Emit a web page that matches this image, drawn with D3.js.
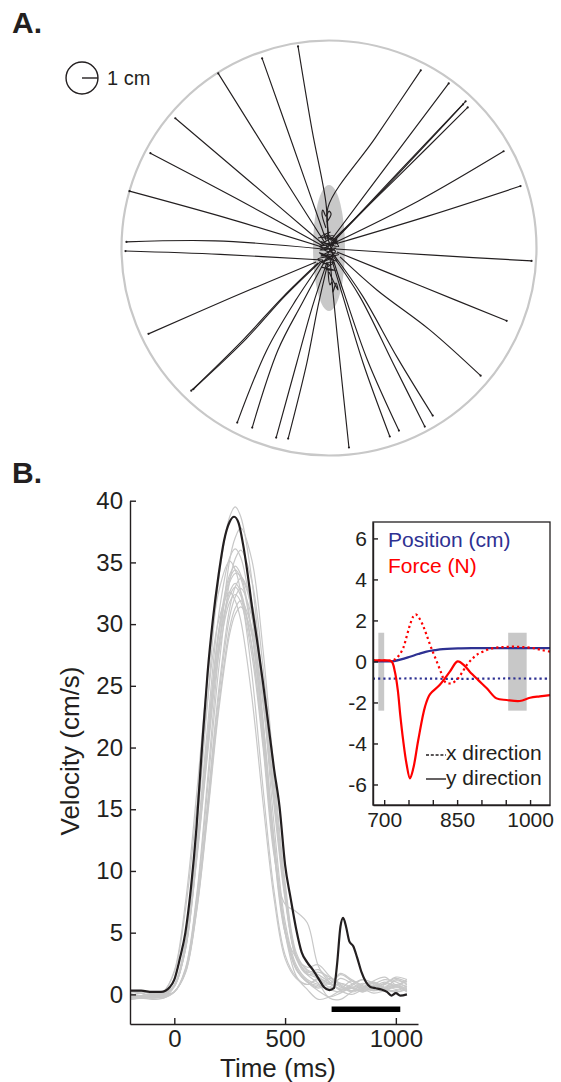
<!DOCTYPE html>
<html><head><meta charset="utf-8">
<script src="https://cdn.jsdelivr.net/npm/d3@7"></script>
<style>
body{margin:0;background:#fff}
svg{display:block}
text{font-family:"Liberation Sans",Arial,Helvetica,sans-serif;fill:#231f20}
</style>
</head><body>
<svg id="c" width="561" height="1082"></svg>
<script>
// ---------------- DATA ----------------
// Panel A: hand trajectories (cm, origin = start position, y up)
const workspaceRadius = 13;          // cm
const startZoneRadii = [1.0, 3.95];  // cm (x, y) of gray ellipse
const trajectories = [
 [[-0.06,0.63],[-0.19,2.81],[-1.06,7.38],[-1.94,12.63]],
 [[-0.19,0.5],[-2.31,6.56],[-4.19,11.88]],
 [[-0.25,0.31],[-3.6,5.6],[-6.94,10.94]],
 [[-0.31,0.19],[-5.0,4.2],[-9.63,8.13]],
 [[-0.38,0.13],[-5.8,3.1],[-11.19,5.94]],
 [[-0.44,0.06],[-6.5,1.9],[-12.5,3.56]],
 [[-0.38,-0.06],[-7.13,0.45],[-12.69,0.38]],
 [[-0.38,-0.75],[-6.81,-0.4],[-12.75,-0.19]],
 [[-0.81,-0.88],[-6.1,-3.1],[-11.31,-5.38]],
 [[-0.69,-0.94],[-2.88,-3.06],[-5.38,-5.75],[-8.63,-8.94]],
 [[-0.56,-0.88],[-2.75,-3.0],[-5.19,-5.69],[-8.5,-8.85]],
 [[-0.38,-0.75],[-2.1,-3.3],[-3.9,-6.4],[-5.75,-10.94]],
 [[-0.25,-0.8],[-1.65,-3.4],[-3.19,-6.38],[-4.81,-11.25]],
 [[-0.13,-0.9],[-1.05,-3.7],[-2.02,-7.19],[-3.31,-11.88]],
 [[-0.06,-0.9],[-0.7,-3.7],[-1.39,-7.21],[-2.56,-11.94]],
 [[0.06,-0.5],[0.19,-2.19],[0.69,-7.19],[1.25,-12.5]],
 [[0.13,-0.6],[0.88,-3.06],[2.13,-7.19],[3.81,-11.81]],
 [[0.19,-0.5],[1.0,-3.0],[2.4,-7.0],[4.38,-11.44]],
 [[0.25,-0.5],[1.94,-3.06],[4.0,-7.19],[6.0,-11.19]],
 [[0.31,-0.44],[2.1,-3.0],[4.3,-6.9],[6.5,-10.5]],
 [[0.69,-0.56],[3.0,-2.63],[6.31,-5.13],[9.5,-8.0]],
 [[0.5,-0.25],[5.8,-2.4],[11.13,-4.56]],
 [[0.44,-0.06],[6.5,-0.45],[12.69,-0.81]],
 [[0.38,0.25],[6.2,2.0],[12.0,3.88]],
 [[0.31,0.31],[5.6,2.95],[10.94,6.06]],
 [[0.25,0.38],[4.4,4.8],[8.56,9.19]],
 [[0.19,0.44],[4.45,4.6],[8.69,8.81]],
 [[0.13,0.25],[4.3,4.6],[8.4,9.0]],
 [[0.13,0.5],[3.8,5.4],[7.5,10.31]],
 [[0.0,0.75],[-0.06,2.56],[2.9,6.9],[5.75,11.13]]
];
const corrections = [
 [[-0.19,1.25],[-0.44,2.13],[-0.38,2.38],[-0.19,2.0],[0,2.31],[0.13,2.13],[-0.13,1.63]],
 [[-0.06,-1.38],[0.06,-2.31],[0.19,-2.13],[0.25,-2.75],[0.44,-2.19],[0.56,-2.63],[0,-1.5]],
 [[-0.69,0.63],[0.31,0.75],[-0.44,0.25],[0.56,0.38],[-0.56,-0.13],[0.44,0.0],[-0.5,-0.5],[0.31,-0.38],[-0.44,-0.88],[0.19,-0.63]],
 [[-0.3,0.9],[0.2,0.3],[-0.6,0.1],[0.4,-0.2],[-0.2,-0.7],[0.5,0.6]],
 [[-0.5,0.4],[0.6,0.1],[-0.1,0.8],[0.2,-0.5],[-0.6,-0.3],[0.5,-0.8],[-0.2,0.2]],
 [[0.1,1.0],[-0.5,0.7],[0.5,0.5],[-0.3,-0.1],[0.6,-0.4],[-0.7,-0.7],[0.1,-1.1]],
 [[-0.4,-1.0],[0.3,-0.9],[-0.2,-1.3],[0.4,-1.4],[-0.5,-1.2]]
];
const scaleBarLabel = "1 cm";

// Panel B: velocity (cm/s) vs time (ms)
const velTicks = [0,5,10,15,20,25,30,35,40];
const timeTicks = [0,500,1000];
const T = [-200,-150,-100,-50,0,50,100,150,200,250,275,300,350,400,450,500,550,600,650,700,750,800,850,900,950,1000,1050];
const grayTrials = [
 [-0.2,-0.1,0.1,0.0,0.8,4.3,13.0,23.7,33.6,38.7,39.5,38.7,33.6,24.5,13.8,5.9,2.4,1.2,0.8,0.5,0.9,0.6,0.3,0.7,0.5,0.8,0.4],
 [-0.3,-0.2,-0.2,0.0,0.2,2.1,7.9,17.4,27.6,35.2,37.0,37.8,35.2,28.0,18.1,9.1,3.4,1.9,1.4,0.9,0.5,1.1,0.7,0.4,0.9,0.6,0.8],
 [0.1,-0.2,-0.3,-0.1,0.7,4.0,11.9,21.7,30.7,35.4,36.1,35.4,30.7,22.4,12.6,5.4,2.2,1.1,0.6,1.3,0.9,0.5,0.2,0.6,1.0,0.7,1.1],
 [-0.4,-0.3,-0.2,-0.2,0.2,2.0,7.6,16.6,26.3,33.5,35.3,36.0,33.5,26.6,17.3,8.6,3.2,1.8,2.0,1.2,0.6,0.3,0.5,0.9,0.4,0.2,0.5],
 [-0.3,-0.1,0.0,0.2,1.9,7.4,16.1,25.6,32.6,35.1,34.4,32.6,26.0,16.8,8.4,3.2,1.4,0.8,1.2,0.6,1.3,0.9,0.5,1.1,1.4,0.8,1.2],
 [-0.2,-0.3,-0.2,0.1,0.7,3.8,11.5,20.8,29.5,34.0,34.7,34.0,29.5,21.5,12.1,5.2,2.1,1.0,0.7,0.4,0.2,0.6,0.5,0.3,0.4,0.7,0.3],
 [0.2,0.1,-0.1,0.0,0.7,3.8,11.3,20.5,29.0,33.4,34.1,33.9,31.7,25.2,16.4,8.2,3.1,2.0,1.6,1.0,0.4,0.8,1.2,0.6,0.9,1.3,1.0],
 [-0.1,-0.3,-0.2,-0.1,0.2,1.9,7.1,15.5,24.6,31.3,33.0,33.7,31.3,24.9,16.2,8.1,3.0,1.7,1.3,0.8,1.6,1.1,0.6,0.9,0.5,1.2,0.8],
 [0.3,0.2,0.1,0.1,0.7,3.7,11.0,20.0,28.3,32.6,33.3,32.6,28.3,20.6,11.7,5.0,2.0,1.0,0.3,-0.2,0.1,0.5,0.2,0.7,0.4,0.3,0.6],
 [-0.2,-0.1,-0.3,-0.2,0.2,1.8,6.9,15.1,24.0,30.6,32.2,32.9,30.6,24.3,15.8,7.9,3.0,1.6,0.9,-0.3,-0.4,0.2,0.8,1.0,0.6,1.1,0.9],
 [-0.3,-0.1,0.0,-0.2,0.6,3.6,10.7,19.4,27.5,31.8,32.4,31.8,27.5,20.1,11.3,7.3,6.7,5.8,2.3,1.0,0.4,0.7,1.2,0.9,0.4,0.6,0.3],
 [-0.4,-0.3,-0.4,-0.3,0.2,1.8,6.7,14.7,23.3,29.7,31.3,31.9,29.7,23.6,15.3,7.7,2.9,1.6,1.8,1.4,0.7,0.2,0.4,0.1,0.3,0.6,0.2],
 [0.0,-0.2,-0.1,-0.3,0.2,1.7,6.6,14.4,22.9,29.2,30.8,31.4,29.2,22.0,12.5,5.0,1.5,0.4,-0.4,-0.2,0.3,0.5,0.9,0.6,0.8,0.4,0.7],
 [-0.1,0.1,-0.2,0.0,0.7,3.6,10.9,19.8,28.1,32.3,33.0,32.3,28.1,20.5,11.6,5.0,3.0,2.2,2.4,1.5,0.8,0.3,0.6,1.0,0.5,0.2,0.4],
 [0.0,-0.1,-0.2,-0.1,0.7,3.8,11.4,20.6,29.2,33.7,34.4,33.7,29.2,21.3,12.0,5.2,2.1,1.0,0.5,0.9,0.3,0.0,0.4,0.8,1.2,1.0,0.6],
 [-0.3,-0.2,-0.1,0.2,1.8,6.8,15.0,23.8,30.3,32.6,31.9,30.3,24.1,15.6,7.8,2.9,1.3,0.8,1.3,0.9,1.7,1.2,0.7,0.3,0.8,1.4,1.2]
];
const blackT = [-200,-150,-100,-60,-40,-20,0,25,50,75,100,125,150,175,200,225,250,270,290,310,330,350,375,400,425,450,475,500,525,550,575,600,625,650,675,700,720,735,750,762,775,790,808,825,845,865,885,910,935,960,980,1000,1020,1050];
const blackV = [0.3,0.3,0.2,0.2,0.3,0.6,1.2,2.9,5.0,8.6,13.5,20,26,30.5,34,36.8,38.3,38.7,38.2,36.5,34.2,31.5,28.5,25.3,21.8,18.3,15.2,10.5,7.8,5.3,3.4,2.6,2.0,1.3,0.6,0.35,0.5,2.5,5.5,6.2,5.5,4.3,3.9,3.0,1.8,1.0,0.6,0.5,0.4,0.2,-0.1,0.1,-0.1,0.0];
const perturbBar = [710, 1020];   // ms
const perturbBarLevel = -1.2;     // cm/s

// Inset: position (cm) & force (N) vs time (ms)
const insetYTicks = [-6,-4,-2,0,2,4,6];
const insetXTicks = [700,750,800,850,900,950,1000];
const insetXLabels = [700,850,1000];
const grayWindows = [[688,700],[955,993]];
const grayWindowRange = [-2.4,1.4];
const posXT = [677,760,850,950,1041];
const posXV = [-0.84,-0.83,-0.85,-0.83,-0.84];
const posYT = [677,700,720,735,753,770,787,805,821,840,856,880,920,960,1000,1041];
const posYV = [0,0,0.02,0.1,0.23,0.36,0.48,0.55,0.6,0.63,0.64,0.65,0.65,0.65,0.65,0.65];
const forceXT = [677,700,718,729,739,746,753,760,765,771,779,787,797,808,818,825,832,840,849,860,870,880,890,905,924,945,965,985,1007,1025,1041];
const forceXV = [0.05,0.05,0.05,0.25,0.65,1.2,1.78,2.2,2.3,2.15,1.8,1.3,0.65,0.0,-0.6,-0.99,-1.07,-1.05,-0.9,-0.55,-0.17,0.1,0.32,0.5,0.65,0.7,0.72,0.7,0.65,0.55,0.48];
const forceYT = [677,700,715,722,728,733,739,746,753,760,770,784,794,814,835,851,865,876,893,911,931,952,979,1000,1020,1041];
const forceYV = [0.05,0.05,0.0,-0.5,-1.4,-2.6,-3.84,-5.0,-5.7,-5.2,-3.84,-2.2,-1.6,-1.15,-0.5,0.0,-0.2,-0.5,-0.9,-1.31,-1.8,-1.88,-1.93,-1.77,-1.7,-1.64];
const legendLabels = ["Position (cm)","Force (N)"];
const directionLabels = ["x direction","y direction"];

// ---------------- DRAW ----------------
const ink = "#231f20", gray = "#c8c8c8", blue = "#2e3192", red = "#ff0000";
const svg = d3.select("#c");

svg.append("text").attr("x",12).attr("y",33).attr("font-size",30).attr("font-weight","bold").text("A.");
svg.append("text").attr("x",12).attr("y",483).attr("font-size",30).attr("font-weight","bold").text("B.");

// Panel A
const xA = d3.scaleLinear().domain([-workspaceRadius,workspaceRadius]).range([121.5,536.5]);
const yA = d3.scaleLinear().domain([-workspaceRadius,workspaceRadius]).range([455.5,40.5]);
const gA = svg.append("g");
gA.append("circle").attr("cx",xA(0)).attr("cy",yA(0)).attr("r",xA(workspaceRadius)-xA(0))
  .attr("fill","none").attr("stroke",gray).attr("stroke-width",2.2);
gA.append("ellipse").attr("cx",xA(0)).attr("cy",yA(0))
  .attr("rx",xA(startZoneRadii[0])-xA(0)).attr("ry",yA(0)-yA(startZoneRadii[1]))
  .attr("fill",gray);
const lineA = d3.line().x(d=>xA(d[0])).y(d=>yA(d[1])).curve(d3.curveCatmullRom.alpha(0.5));
gA.selectAll("path.tr").data(trajectories.concat(corrections)).join("path").attr("class","tr")
  .attr("d",lineA).attr("fill","none").attr("stroke",ink).attr("stroke-width",1.15);
gA.selectAll("circle.end").data(trajectories).join("circle").attr("class","end")
  .attr("cx",d=>xA(d[d.length-1][0])).attr("cy",d=>yA(d[d.length-1][1])).attr("r",1.1).attr("fill",ink);
// scale bar (1 cm radius circle)
const sbR = xA(1)-xA(0), sbX = 82, sbY = 78;
svg.append("circle").attr("cx",sbX).attr("cy",sbY).attr("r",sbR).attr("fill","none").attr("stroke",ink).attr("stroke-width",1.4);
svg.append("line").attr("x1",sbX).attr("x2",sbX+sbR).attr("y1",sbY).attr("y2",sbY).attr("stroke",ink).attr("stroke-width",1.4);
svg.append("text").attr("x",107).attr("y",85).attr("font-size",20).text(scaleBarLabel);

// Panel B main
const xM = d3.scaleLinear().domain([-200,1100]).range([130,418]);
const yM = d3.scaleLinear().domain([-2.4,40]).range([1024,500.7]);
const gB = svg.append("g");
const lineM = d3.line().x((d,i)=>xM(T[i])).y(d=>yM(d)).curve(d3.curveCatmullRom.alpha(0.5));
gB.selectAll("path.g").data(grayTrials).join("path").attr("class","g").attr("d",lineM)
  .attr("fill","none").attr("stroke",gray).attr("stroke-width",1.2);
const lineK = d3.line().x((d,i)=>xM(blackT[i])).y(d=>yM(d)).curve(d3.curveMonotoneX);
gB.append("path").attr("d",lineK(blackV)).attr("fill","none").attr("stroke",ink).attr("stroke-width",2.2);
gB.append("line").attr("x1",xM(perturbBar[0])).attr("x2",xM(perturbBar[1]))
  .attr("y1",yM(perturbBarLevel)).attr("y2",yM(perturbBarLevel)).attr("stroke","#000").attr("stroke-width",5.5);

function styleAxis(g, fs){
  g.attr("font-family",null).attr("font-size",null).style("color",ink);
  g.selectAll("path,line").attr("stroke-width",1.4);
  g.selectAll("text").attr("font-size",fs).style("fill",ink);
}
const ay = svg.append("g").attr("transform",`translate(${xM.range()[0]},0)`)
  .call(d3.axisLeft(yM).tickValues(velTicks).tickSizeInner(-6).tickSizeOuter(0).tickPadding(7).tickFormat(d=>String(d)));
styleAxis(ay,24);
const ax = svg.append("g").attr("transform",`translate(0,${yM.range()[0]})`)
  .call(d3.axisBottom(xM).tickValues(timeTicks).tickSizeInner(-6).tickSizeOuter(0).tickPadding(6).tickFormat(d=>String(d)));
styleAxis(ax,24);
svg.append("text").attr("x",278).attr("y",1077).attr("text-anchor","middle").attr("font-size",26).text("Time (ms)");
svg.append("text").attr("transform","translate(79,751) rotate(-90)").attr("text-anchor","middle").attr("font-size",26).text("Velocity (cm/s)");

// Inset
const xI = d3.scaleLinear().domain([677,1041]).range([373,550]);
const yI = d3.scaleLinear().domain([-7,6.8]).range([805,522]);
const gI = svg.append("g");
gI.append("rect").attr("x",xI.range()[0]).attr("y",yI.range()[1]).attr("width",xI.range()[1]-xI.range()[0])
  .attr("height",yI.range()[0]-yI.range()[1]).attr("fill","#fff");
gI.selectAll("rect.w").data(grayWindows).join("rect").attr("class","w")
  .attr("x",d=>xI(d[0])).attr("width",d=>xI(d[1])-xI(d[0]))
  .attr("y",yI(grayWindowRange[1])).attr("height",yI(grayWindowRange[0])-yI(grayWindowRange[1]))
  .attr("fill",gray);
function insetLine(ts,vs,color,dotted){
  const l = d3.line().x((d,i)=>xI(ts[i])).y(d=>yI(d)).curve(d3.curveCatmullRom.alpha(0.5));
  const p = gI.append("path").attr("d",l(vs)).attr("fill","none").attr("stroke",color).attr("stroke-width",2.2);
  if(dotted) p.attr("stroke-dasharray","2.2,3");
}
insetLine(posXT,posXV,blue,true);
insetLine(posYT,posYV,blue,false);
insetLine(forceXT,forceXV,red,true);
insetLine(forceYT,forceYV,red,false);
gI.append("rect").attr("x",xI.range()[0]).attr("y",yI.range()[1]).attr("width",xI.range()[1]-xI.range()[0])
  .attr("height",yI.range()[0]-yI.range()[1]).attr("fill","none").attr("stroke",ink).attr("stroke-width",1.3);
const iy = svg.append("g").attr("transform",`translate(${xI.range()[0]},0)`)
  .call(d3.axisLeft(yI).tickValues(insetYTicks).tickSizeInner(-5).tickSizeOuter(0).tickPadding(6).tickFormat(d=>String(d)));
styleAxis(iy,21);
const ix = svg.append("g").attr("transform",`translate(0,${yI.range()[0]})`)
  .call(d3.axisBottom(xI).tickValues(insetXTicks).tickSizeInner(-5).tickSizeOuter(0).tickPadding(7)
    .tickFormat(d=>insetXLabels.includes(d)?String(d):""));
styleAxis(ix,21);
svg.append("text").attr("x",388).attr("y",547).attr("font-size",21).style("fill",blue).text(legendLabels[0]);
svg.append("text").attr("x",388).attr("y",573).attr("font-size",21).style("fill",red).text(legendLabels[1]);
svg.append("line").attr("x1",426).attr("x2",446).attr("y1",755).attr("y2",755).attr("stroke",ink).attr("stroke-width",1.3).attr("stroke-dasharray","3,1.8");
svg.append("text").attr("x",446).attr("y",760).attr("font-size",21).text(directionLabels[0]);
svg.append("line").attr("x1",426).attr("x2",446).attr("y1",779).attr("y2",779).attr("stroke",ink).attr("stroke-width",1.4);
svg.append("text").attr("x",446).attr("y",785).attr("font-size",21).text(directionLabels[1]);
</script>
</body></html>
